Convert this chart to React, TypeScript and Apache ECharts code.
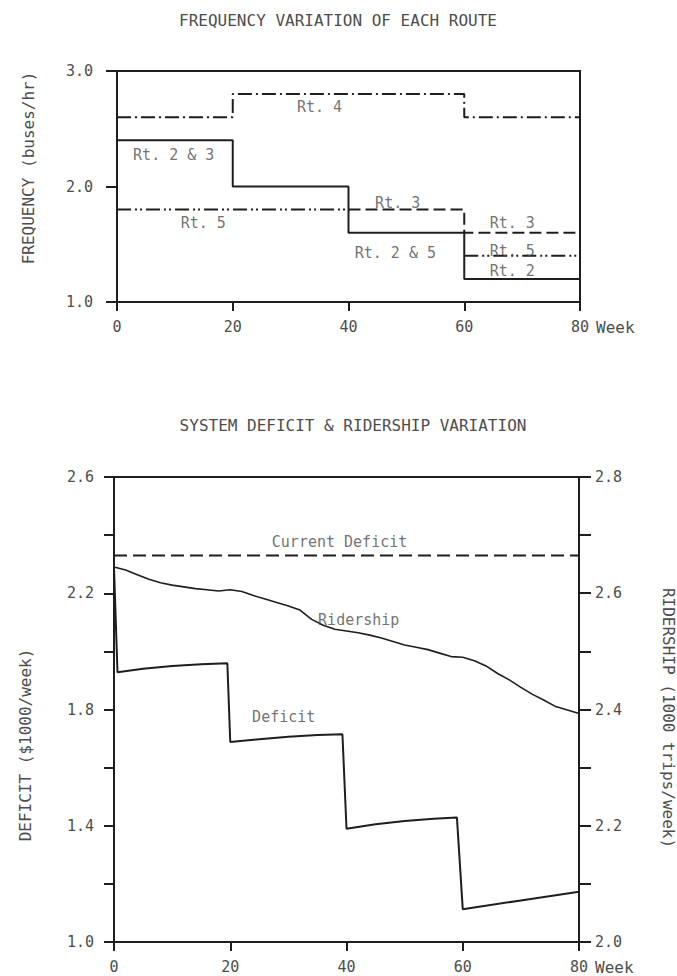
import React, { useEffect, useRef } from 'react';
import * as echarts from 'echarts';

// ---- data ----
const periodBounds = [0, 20, 40, 60, 80];
const rt2Freq = [2.4, 2.0, 1.6, 1.2];
const rt3Freq = [2.4, 2.0, 1.8, 1.6];
const rt4Freq = [2.6, 2.8, 2.8, 2.6];
const rt5Freq = [1.8, 1.8, 1.6, 1.4];

const freqTickLabels = ['1.0', '2.0', '3.0'];
const deficitTickLabels = ['1.0', '1.4', '1.8', '2.2', '2.6'];
const ridershipTickLabels = ['2.0', '2.2', '2.4', '2.6', '2.8'];

const ridershipWeeks = [0, 2, 4, 6, 8, 10, 12, 14, 16, 18, 20, 22, 24, 26, 28, 30, 32, 34, 36, 38, 40, 42, 44, 46, 48, 50, 52, 54, 56, 58, 60, 62, 64, 66, 68, 70, 72, 74, 76, 78, 80];
const ridershipValues = [2.645, 2.64, 2.632, 2.624, 2.618, 2.614, 2.611, 2.608, 2.606, 2.604, 2.606, 2.603, 2.596, 2.59, 2.584, 2.578, 2.571, 2.555, 2.545, 2.538, 2.535, 2.532, 2.528, 2.523, 2.517, 2.511, 2.507, 2.503, 2.497, 2.491, 2.49, 2.484, 2.475, 2.462, 2.451, 2.438, 2.426, 2.416, 2.405, 2.399, 2.393];

const deficitWeeks = [0, 0.6, 5, 10, 15, 19.5, 20, 25, 30, 35, 39.3, 40, 45, 50, 55, 59, 60, 70, 80];
const deficitValues = [2.288, 1.928, 1.94, 1.95, 1.956, 1.959, 1.688, 1.698, 1.706, 1.712, 1.715, 1.39, 1.405, 1.416, 1.424, 1.428, 1.113, 1.143, 1.173];

const currentDeficit = 2.33;

const freqNotes: [string, number, number][] = [
  ['Rt. 4', 35, 2.69],
  ['Rt. 2 & 3', 9.8, 2.27],
  ['Rt. 5', 14.9, 1.68],
  ['Rt. 3', 48.5, 1.86],
  ['Rt. 2 & 5', 48.1, 1.42],
  ['Rt. 3', 68.3, 1.68],
  ['Rt. 5', 68.3, 1.44],
  ['Rt. 2', 68.3, 1.27],
];
const systemNotes: [string, number, number][] = [
  ['Current Deficit', 38.8, 2.377],
  ['Ridership', 42.1, 2.108],
  ['Deficit', 29.2, 1.774],
];

// ---- styles ----
const FONT = '"DejaVu Sans Mono", monospace';
const TXT = '#4d4d4d';
const LINE = '#1e1e1e';

function stepData(values: number[], include: (i: number) => boolean) {
  const out: any[] = [];
  for (let i = 0; i < values.length; i++) {
    if (include(i)) {
      out.push([periodBounds[i], values[i]]);
      out.push([periodBounds[i + 1], values[i]]);
    } else if (out.length && out[out.length - 1][1] !== '-') {
      out.push([periodBounds[i], '-']);
    }
  }
  return out;
}

function axisCommon(tickLen: number) {
  return {
    axisLine: { show: true, onZero: false, lineStyle: { color: LINE, width: 2 } },
    axisTick: { show: true, inside: false, length: tickLen, lineStyle: { color: LINE, width: 2 } },
    splitLine: { show: false },
  };
}

export default function App() {
  const ref = useRef<HTMLDivElement>(null);
  useEffect(() => {
    if (!ref.current) return;
    const chart = echarts.init(ref.current, undefined, { renderer: 'svg' });
    const labelStyle = { color: TXT, fontFamily: FONT, fontSize: 15 };
    const noteSeries = (notes: [string, number, number][], xi: number, yi: number) => ({
      type: 'scatter',
      xAxisIndex: xi,
      yAxisIndex: yi,
      symbolSize: 1,
      itemStyle: { color: 'rgba(0,0,0,0)' },
      silent: true,
      z: 5,
      label: {
        show: true,
        position: 'inside',
        formatter: '{b}',
        color: TXT,
        fontFamily: FONT,
        fontSize: 15,
      },
      data: notes.map(([t, x, y]) => ({ name: t, value: [x, y] })),
    });

    chart.setOption({
      animation: false,
      backgroundColor: '#ffffff',
      grid: [
        { left: 117, top: 71, width: 463, height: 231, show: true, borderColor: LINE, borderWidth: 2, containLabel: false, outerBoundsMode: 'none' },
        { left: 114, top: 477, width: 465, height: 465, show: true, borderColor: LINE, borderWidth: 2, containLabel: false, outerBoundsMode: 'none' },
      ],
      xAxis: [0, 1].map((g) => ({
        type: 'value',
        gridIndex: g,
        min: 0,
        max: 80,
        interval: 20,
        ...axisCommon(9),
        axisLabel: { ...labelStyle, margin: 17, showMinLabel: true, showMaxLabel: true },
        name: 'Week',
        nameLocation: 'end',
        nameGap: 16,
        nameTextStyle: { ...labelStyle, fontSize: 16, verticalAlign: 'top', padding: [17, 0, 0, 0] },
      })),
      yAxis: [
        {
          type: 'value',
          gridIndex: 0,
          min: 1,
          max: 3,
          interval: 1,
          ...axisCommon(11),
          axisLabel: {
            ...labelStyle,
            margin: 24,
            formatter: (v: number) => {
              const s = v.toFixed(1);
              return freqTickLabels.includes(s) ? s : '';
            },
          },
        },
        {
          type: 'value',
          gridIndex: 1,
          position: 'left',
          min: 1.0,
          max: 2.6,
          interval: 0.2,
          ...axisCommon(10),
          axisLabel: {
            ...labelStyle,
            margin: 20,
            formatter: (v: number) => {
              const s = v.toFixed(1);
              return deficitTickLabels.includes(s) ? s : '';
            },
          },
        },
        {
          type: 'value',
          gridIndex: 1,
          position: 'right',
          min: 2.0,
          max: 2.8,
          interval: 0.1,
          ...axisCommon(12),
          axisLabel: {
            ...labelStyle,
            margin: 16,
            formatter: (v: number) => {
              const s = v.toFixed(1);
              return ridershipTickLabels.includes(s) ? s : '';
            },
          },
        },
      ],
      graphic: [
        {
          type: 'text', x: 338, y: 20, silent: true,
          style: { text: 'FREQUENCY VARIATION OF EACH ROUTE', fill: TXT, fontFamily: FONT, fontSize: 16, align: 'center', verticalAlign: 'middle' },
        },
        {
          type: 'text', x: 353, y: 425, silent: true,
          style: { text: 'SYSTEM DEFICIT & RIDERSHIP VARIATION', fill: TXT, fontFamily: FONT, fontSize: 16, align: 'center', verticalAlign: 'middle' },
        },
        {
          type: 'text', x: 28, y: 168, rotation: Math.PI / 2, silent: true,
          style: { text: 'FREQUENCY (buses/hr)', fill: TXT, fontFamily: FONT, fontSize: 16, align: 'center', verticalAlign: 'middle' },
        },
        {
          type: 'text', x: 25, y: 745, rotation: Math.PI / 2, silent: true,
          style: { text: 'DEFICIT ($1000/week)', fill: TXT, fontFamily: FONT, fontSize: 16, align: 'center', verticalAlign: 'middle' },
        },
        {
          type: 'text', x: 668, y: 718, rotation: -Math.PI / 2, silent: true,
          style: { text: 'RIDERSHIP (1000 trips/week)', fill: TXT, fontFamily: FONT, fontSize: 16, align: 'center', verticalAlign: 'middle' },
        },
      ],
      series: [
        {
          name: 'Rt. 4', type: 'line', xAxisIndex: 0, yAxisIndex: 0, showSymbol: false, symbol: 'none',
          lineStyle: { color: LINE, width: 2, type: [14, 4, 2, 4] },
          data: stepData(rt4Freq, () => true),
        },
        {
          name: 'Rt. 5', type: 'line', xAxisIndex: 0, yAxisIndex: 0, showSymbol: false, symbol: 'none', connectNulls: false,
          lineStyle: { color: LINE, width: 2, type: [14, 4, 2, 3, 2, 4] },
          data: stepData(rt5Freq, (i) => rt5Freq[i] !== rt2Freq[i]),
        },
        {
          name: 'Rt. 3', type: 'line', xAxisIndex: 0, yAxisIndex: 0, showSymbol: false, symbol: 'none', connectNulls: false,
          lineStyle: { color: LINE, width: 2, type: [12, 5] },
          data: stepData(rt3Freq, (i) => rt3Freq[i] !== rt2Freq[i]),
        },
        {
          name: 'Rt. 2', type: 'line', xAxisIndex: 0, yAxisIndex: 0, showSymbol: false, symbol: 'none', z: 3,
          lineStyle: { color: LINE, width: 2 },
          data: stepData(rt2Freq, () => true),
        },
        noteSeries(freqNotes, 0, 0),
        {
          name: 'Current Deficit', type: 'line', xAxisIndex: 1, yAxisIndex: 1, showSymbol: false, symbol: 'none',
          lineStyle: { color: LINE, width: 2, type: [13, 6] },
          data: [[0, currentDeficit], [80, currentDeficit]],
        },
        {
          name: 'Ridership', type: 'line', xAxisIndex: 1, yAxisIndex: 2, showSymbol: false, symbol: 'none',
          lineStyle: { color: LINE, width: 1.6 },
          data: ridershipWeeks.map((w, i) => [w, ridershipValues[i]]),
        },
        {
          name: 'Deficit', type: 'line', xAxisIndex: 1, yAxisIndex: 1, showSymbol: false, symbol: 'none',
          lineStyle: { color: LINE, width: 2 },
          data: deficitWeeks.map((w, i) => [w, deficitValues[i]]),
        },
        noteSeries(systemNotes, 1, 1),
      ],
    });
    return () => chart.dispose();
  }, []);
  return <div ref={ref} style={{ position: 'absolute', left: 0, top: 0, width: 677, height: 976, background: '#fff' }} />;
}
